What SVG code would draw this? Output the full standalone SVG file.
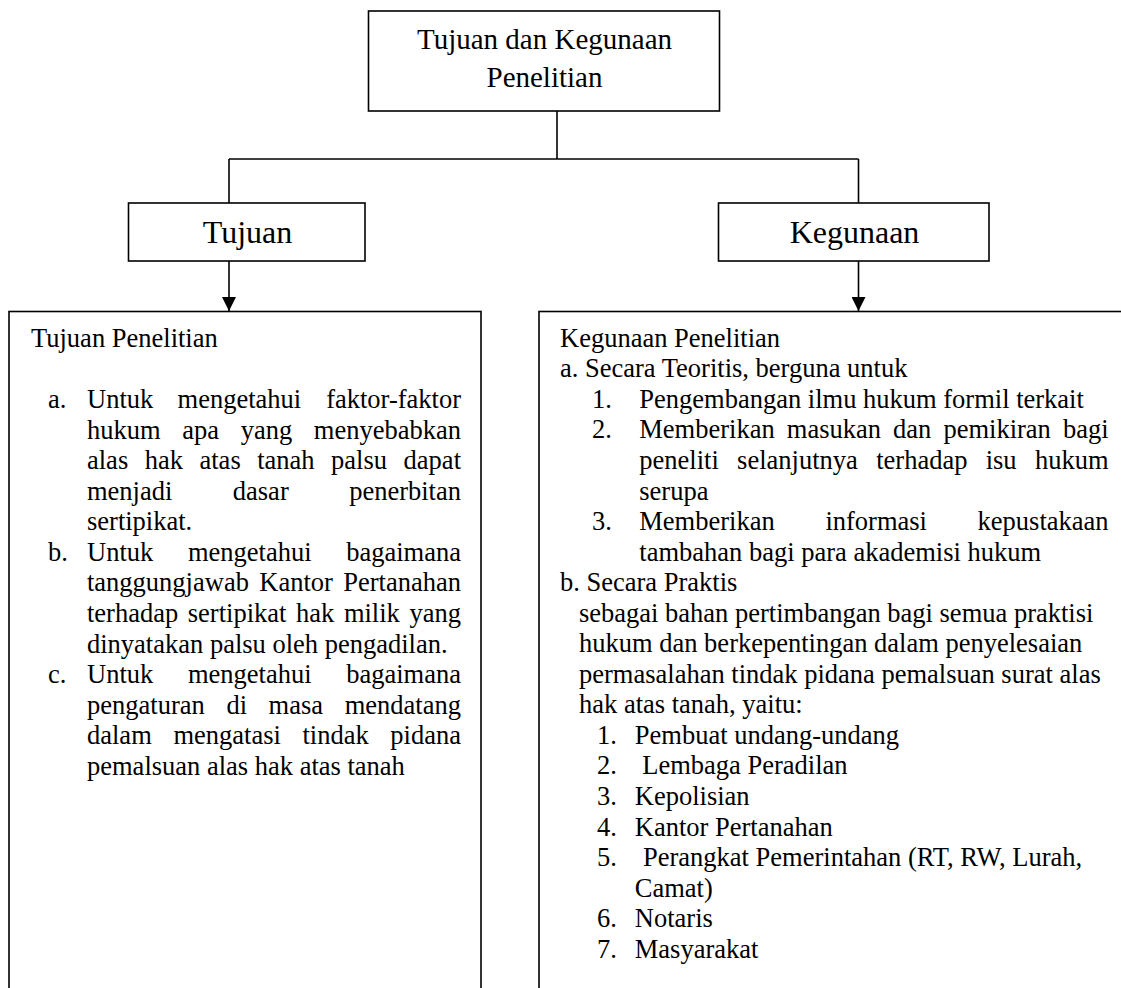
<svg xmlns="http://www.w3.org/2000/svg" width="1121" height="988" viewBox="0 0 1121 988">
<style>
.box{fill:#fff;stroke:#000;stroke-width:1.6}
.wire{fill:none;stroke:#000;stroke-width:1.6}
.t{font-family:"Liberation Serif","Times New Roman",serif;fill:#000}
.h0{font-size:29px;text-anchor:middle}
.h1{font-size:32px;text-anchor:middle}
.b{font-size:26.5px}
.e{text-anchor:end}
</style>
<defs>
<marker id="arr" viewBox="0 0 14 14" refX="14" refY="7" markerWidth="14" markerHeight="14" markerUnits="userSpaceOnUse" orient="auto">
<path d="M0,0 L14,7 L0,14 Z" fill="#000"/>
</marker>
</defs>
<rect width="1121" height="988" fill="#fff"/>

<g id="connectors">
<path class="wire" d="M557,111 V159"/>
<path class="wire" d="M229,159 H858.5"/>
<path class="wire" d="M229,159 V203"/>
<path class="wire" d="M858.5,159 V203"/>
<path class="wire" d="M229,261 V311" marker-end="url(#arr)"/>
<path class="wire" d="M858.5,261 V311" marker-end="url(#arr)"/>
</g>

<g id="node-top">
<rect class="box" x="368.5" y="11" width="351" height="100"/>
<text class="t h0" x="544.5" y="49.3">Tujuan dan Kegunaan</text>
<text class="t h0" x="544.5" y="87.3">Penelitian</text>
</g>

<g id="node-tujuan">
<rect class="box" x="128.5" y="203" width="236.5" height="58"/>
<text class="t h1" x="247.5" y="243.3">Tujuan</text>
</g>

<g id="node-kegunaan">
<rect class="box" x="718.5" y="203" width="270.5" height="58"/>
<text class="t h1" x="854.5" y="243.3">Kegunaan</text>
</g>

<g id="node-tujuan-detail">
<rect class="box" x="9" y="311.5" width="472" height="700"/>
<g class="t b">
<text x="31" y="347">Tujuan Penelitian</text>
<text x="48" y="408.1">a.</text>
<text x="87" y="408.1">Untuk</text><text x="177.6" y="408.1">mengetahui</text><text class="e" x="461" y="408.1">faktor-faktor</text>
<text x="87" y="438.7">hukum</text><text x="182.2" y="438.7">apa</text><text x="240.7" y="438.7">yang</text><text class="e" x="461" y="438.7">menyebabkan</text>
<text x="87" y="469.2">alas</text><text x="144.7" y="469.2">hak</text><text x="199.5" y="469.2">atas</text><text x="257.2" y="469.2">tanah</text><text x="331.1" y="469.2">palsu</text><text class="e" x="461" y="469.2">dapat</text>
<text x="87" y="499.8">menjadi</text><text x="232.8" y="499.8">dasar</text><text class="e" x="461" y="499.8">penerbitan</text>
<text x="87" y="530.3">sertipikat.</text>
<text x="48" y="560.9">b.</text>
<text x="87" y="560.9">Untuk</text><text x="187.9" y="560.9">mengetahui</text><text class="e" x="461" y="560.9">bagaimana</text>
<text x="87" y="591.4">tanggungjawab</text><text x="259.3" y="591.4">Kantor</text><text class="e" x="461" y="591.4">Pertanahan</text>
<text x="87" y="622">terhadap</text><text x="187.8" y="622">sertipikat</text><text x="296" y="622">hak</text><text x="343.9" y="622">milik</text><text class="e" x="461" y="622">yang</text>
<text x="87" y="652.5">dinyatakan palsu oleh pengadilan.</text>
<text x="48" y="683.1">c.</text>
<text x="87" y="683.1">Untuk</text><text x="187.9" y="683.1">mengetahui</text><text class="e" x="461" y="683.1">bagaimana</text>
<text x="87" y="713.6">pengaturan</text><text x="226.4" y="713.6">di</text><text x="268.6" y="713.6">masa</text><text class="e" x="461" y="713.6">mendatang</text>
<text x="87" y="744.2">dalam</text><text x="173.4" y="744.2">mengatasi</text><text x="302.5" y="744.2">tindak</text><text class="e" x="461" y="744.2">pidana</text>
<text x="87" y="774.7">pemalsuan alas hak atas tanah</text>
</g>
</g>

<g id="node-kegunaan-detail">
<rect class="box" x="539" y="311.5" width="600" height="700"/>
<g class="t b">
<text x="560" y="346.7">Kegunaan Penelitian</text>
<text x="560" y="377.3">a. Secara Teoritis, berguna untuk</text>
<text x="592" y="407.8">1.</text><text x="639.3" y="407.8">Pengembangan ilmu hukum formil terkait</text>
<text x="592" y="438.4">2.</text>
<text x="639.3" y="438.4">Memberikan</text><text x="786.8" y="438.4">masukan</text><text x="893.1" y="438.4">dan</text><text x="943.4" y="438.4">pemikiran</text><text class="e" x="1108.6" y="438.4">bagi</text>
<text x="639.3" y="468.9">peneliti</text><text x="737.1" y="468.9">selanjutnya</text><text x="876.2" y="468.9">terhadap</text><text x="985.7" y="468.9">isu</text><text class="e" x="1108.6" y="468.9">hukum</text>
<text x="639.3" y="499.5">serupa</text>
<text x="592" y="530">3.</text>
<text x="639.3" y="530">Memberikan</text><text x="825.4" y="530">informasi</text><text class="e" x="1108.6" y="530">kepustakaan</text>
<text x="639.3" y="560.6">tambahan bagi para akademisi hukum</text>
<text x="560" y="591.1">b. Secara Praktis</text>
<text x="579" y="621.7">sebagai bahan pertimbangan bagi semua praktisi</text>
<text x="579" y="652.2">hukum dan berkepentingan dalam penyelesaian</text>
<text x="579" y="682.8">permasalahan tindak pidana pemalsuan surat alas</text>
<text x="579" y="713.3">hak atas tanah, yaitu:</text>
<text x="597" y="743.9">1.</text><text x="634.8" y="743.9">Pembuat undang-undang</text>
<text x="597" y="774.4">2.</text><text x="642.3" y="774.4">Lembaga Peradilan</text>
<text x="597" y="805">3.</text><text x="634.8" y="805">Kepolisian</text>
<text x="597" y="835.5">4.</text><text x="634.8" y="835.5">Kantor Pertanahan</text>
<text x="597" y="866.1">5.</text><text x="643" y="866.1">Perangkat Pemerintahan (RT, RW, Lurah,</text>
<text x="634.8" y="896.6">Camat)</text>
<text x="597" y="927.2">6.</text><text x="634.8" y="927.2">Notaris</text>
<text x="597" y="957.7">7.</text><text x="634.8" y="957.7">Masyarakat</text>
</g>
</g>
</svg>
